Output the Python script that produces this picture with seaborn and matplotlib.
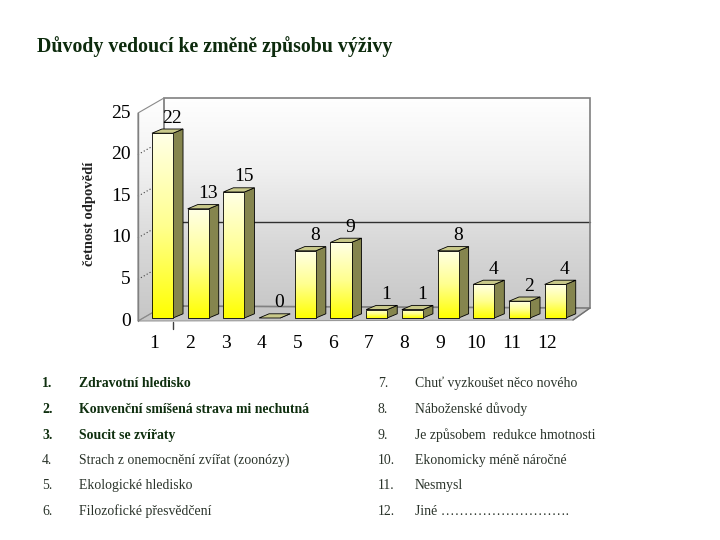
import numpy as np
import matplotlib
matplotlib.use("Agg")
import matplotlib.pyplot as plt
import seaborn as sns
from matplotlib.patches import Polygon
from matplotlib.colors import LinearSegmentedColormap

# ---- data ----
categories = [str(i) for i in range(1, 13)]
counts = [22, 13, 15, 0, 8, 9, 1, 1, 8, 4, 2, 4]
y_ticks = [0, 5, 10, 15, 20, 25]
title = "Důvody vedoucí ke změně způsobu výživy"
y_label = "četnost odpovědí"
reason_nums = ["1.", "2.", "3.", "4.", "5.", "6.", "7.", "8.", "9.", "10.", "11.", "12."]
reasons = [
    "Zdravotní hledisko",
    "Konvenční smíšená strava mi nechutná",
    "Soucit se zvířaty",
    "Strach z onemocnění zvířat (zoonózy)",
    "Ekologické hledisko",
    "Filozofické přesvědčení",
    "Chuť vyzkoušet něco nového",
    "Náboženské důvody",
    "Je způsobem  redukce hmotnosti",
    "Ekonomicky méně náročné",
    "Nesmysl",
    "Jiné ……………………….",
]
bold_reasons = [True, True, True] + [False] * 9

# ---- style ----
sns.set_theme(style="white")
plt.rcParams['font.family'] = ['Liberation Serif', 'DejaVu Serif']

fig = plt.figure(figsize=(7.2, 5.4), dpi=100)
ax = fig.add_axes([120 / 720, 1 - 330 / 540, 480 / 720, 240 / 540])

# pixel -> data helpers for layout (plot frame geometry only)
def px2x(p):
    return (p - 162.5) / 35.7

def px2y(p):
    return (318 - p) / 8.4

# ---- bars (front faces) ----
bar_w = 0.59
sns.barplot(x=categories, y=counts, color='#ffff40', width=bar_w,
            edgecolor='black', linewidth=0.6, ax=ax, zorder=3)
bars = list(ax.patches)

front_cmap = LinearSegmentedColormap.from_list("front", ["#ffff00", "#ffff90", "#ffffe6"])
wall_cmap = LinearSegmentedColormap.from_list("wall", ["#c6c6c6", "#d8d8d8", "#f0f0f0", "#ffffff"])
grad = np.linspace(0, 1, 256).reshape(-1, 1)

dx, dy = 0.28, 0.5   # bar depth in data units
side_col = '#85854e'
top_col = '#c9c98a'

for bar, v in zip(bars, counts):
    x0 = bar.get_x()
    x1 = x0 + bar.get_width()
    if v > 0:
        im = ax.imshow(grad, extent=[x0, x1, 0, v], origin='lower', cmap=front_cmap,
                       aspect='auto', zorder=3.1, interpolation='bilinear')
        im.set_clip_path(bar)
    bar.set_facecolor('none')
    bar.set_zorder(3.2)
    if v == 0:
        bar.set_edgecolor('none')
    # side face
    side = Polygon([(x1, 0), (x1 + dx, dy), (x1 + dx, v + dy), (x1, v)], closed=True,
                   facecolor=side_col, edgecolor='black', linewidth=0.6, zorder=3)
    ax.add_patch(side)
    # top face
    top = Polygon([(x0, v), (x1, v), (x1 + dx, v + dy), (x0 + dx, v + dy)], closed=True,
                  facecolor=top_col, edgecolor='black', linewidth=0.6, zorder=3.3)
    ax.add_patch(top)
    # value label
    ax.text((x0 + x1) / 2 + 0.27, v + 1.8, f"{v}", ha='center', va='center',
            fontsize=14, color='black', zorder=5)

# ---- walls / floor ----
FL0 = (px2x(138), px2y(321))
FL1 = (px2x(138), px2y(113))
BL1 = (px2x(164), px2y(98))
BL0 = (px2x(164), px2y(306))
BR1 = (px2x(590), px2y(98))
BR0 = (px2x(590), px2y(308))
FR0 = (px2x(573), px2y(320))

back = Polygon([BL0, BR0, BR1, BL1], closed=True, facecolor='none',
               edgecolor='#808080', linewidth=1.2, zorder=1.5)
ax.add_patch(back)
imb = ax.imshow(grad, extent=[BL0[0], BR0[0], BR0[1] - 1, BL1[1]], origin='lower',
                cmap=wall_cmap, aspect='auto', zorder=1, interpolation='bilinear')
imb.set_clip_path(back)

left = Polygon([FL0, FL1, BL1, BL0], closed=True, facecolor='none',
               edgecolor='#8a8a8a', linewidth=0.8, zorder=1.5)
ax.add_patch(left)
iml = ax.imshow(grad, extent=[FL0[0], BL0[0], FL0[1], BL1[1]], origin='lower',
                cmap=wall_cmap, aspect='auto', zorder=1, interpolation='bilinear')
iml.set_clip_path(left)

floor = Polygon([FL0, FR0, BR0, BL0], closed=True, facecolor='#c6c6c6',
                edgecolor='#9a9a9a', linewidth=0.8, zorder=1.2)
ax.add_patch(floor)
ax.plot([FR0[0], BR0[0]], [FR0[1], BR0[1]], color='#707070', lw=1.0, zorder=1.6)

# horizontal gridline on back wall at 10, dotted lines on side wall
back_off = BL0[1]
ax.plot([BL0[0], BR0[0]], [10 + back_off, 10 + back_off], color='#303030', lw=1.0, zorder=1.4)
front_scale = (FL1[1] - FL0[1]) / 25.0
for t in y_ticks[1:-1]:
    ax.plot([FL0[0], BL0[0]], [FL0[1] + t * front_scale, BL0[1] + t * (BL1[1] - BL0[1]) / 25.0],
            color='#404040', lw=0.8, ls=(0, (1, 2)), zorder=1.6)

# front axis line
ax.plot([FL0[0], FL1[0]], [FL0[1], FL1[1]], color='#808080', lw=1.0, zorder=1.7)

# y tick labels
for t in y_ticks:
    ax.text(px2x(131), FL0[1] + t * front_scale, f"{t}", ha='right', va='center',
            fontsize=14, color='black', clip_on=False)

# x tick labels
for i, c in enumerate(categories):
    ax.text(i - 0.22, px2y(344), c, ha='center', va='center', fontsize=14,
            color='black', clip_on=False)
ax.plot([px2x(173), px2x(173)], [px2y(322), px2y(329)], color='#404040', lw=1.0, clip_on=False)

ax.set_xlim(px2x(120), px2x(600))
ax.set_ylim(px2y(330), px2y(90))
ax.axis('off')

# y label
fig.text(90 / 720, 1 - 214 / 540, y_label, rotation=90, ha='center', va='center',
         fontsize=10.5, fontweight='bold', color='#222222')

# title
fig.text(37 / 720, 1 - 47 / 540, title, ha='left', va='center', fontsize=14.3,
         fontweight='bold', color='#0d2b0d')

# reasons table
row_y = [383, 409, 435, 460, 485, 511]
for k in range(12):
    col = 0 if k < 6 else 1
    r = k % 6
    nx = 42 if col == 0 else 378
    tx = 79 if col == 0 else 415
    bold = bold_reasons[k]
    colr = '#0f2f0f' if bold else '#2a332a'
    fw = 'bold' if bold else 'normal'
    base = 1 - (row_y[r] + 4) / 540
    fig.text(nx / 720, base, reason_nums[k], ha='left', va='baseline',
             fontsize=9.9, fontweight=fw, color=colr)
    fig.text(tx / 720, base, reasons[k], ha='left', va='baseline',
             fontsize=9.9, fontweight=fw, color=colr)

fig.savefig("out.png", dpi=100)
